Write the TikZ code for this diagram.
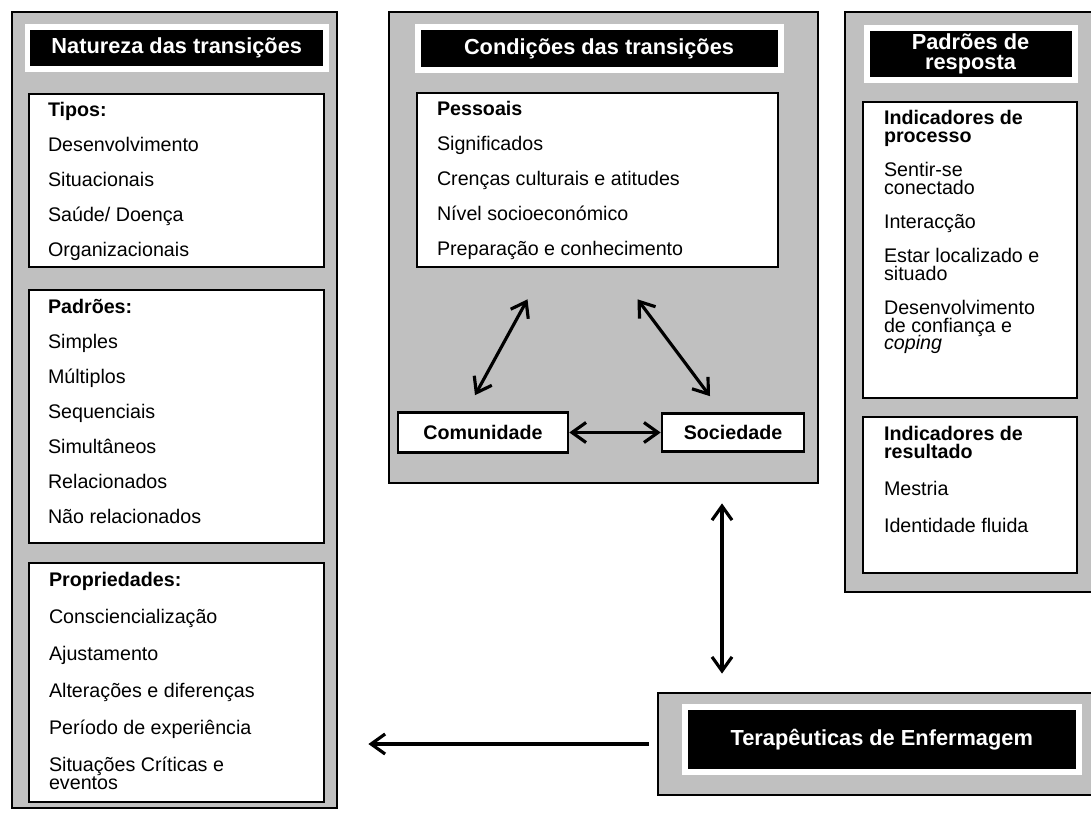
\documentclass[tikz,border=0pt]{standalone}
\usepackage{fontspec}
\setmainfont{Liberation Sans}
\usetikzlibrary{positioning,arrows.meta}
\definecolor{panelgray}{RGB}{192,192,192}
\newcommand{\wrapline}{\\[-0.34cm]}

\begin{document}
\begin{tikzpicture}[x=0.02cm,y=-0.02cm,
    sized/.style 2 args={minimum width=#1*0.02cm,minimum height=#2*0.02cm}]
  \tikzstyle{panel} = [draw,line width=1.6pt,fill=panelgray,inner sep=0pt]
  \tikzstyle{box} = [draw,line width=1.5pt,fill=white,inner sep=0pt]
  \tikzstyle{title} = [draw=white,line width=0.12cm,fill=black,text=white,inner sep=0pt,align=center,font=\fontsize{12.4}{11}\selectfont\bfseries]
  \tikzstyle{list} = [inner sep=0pt,align=left,font=\fontsize{11.2}{19.9}\selectfont]
  \tikzstyle{tag} = [box,text height=8pt,text depth=0pt,font=\fontsize{11.2}{12}\selectfont\bfseries]
  \tikzstyle{link} = [line width=1.8pt,{Straight Barb[length=0.28cm,width=0.4cm]}-{Straight Barb[length=0.28cm,width=0.4cm]}]

  \useasboundingbox (0,0) rectangle (1091,812);

  % panels
  \node[panel,sized={325}{796}] (nat) at (174.5,410) {};
  \node[panel,sized={429}{471}] (cond) at (603.5,247.5) {};
  \node[panel,sized={250}{580}] (resp) at (970,302) {};
  \node[panel,sized={437}{102}] (ter) at (876.5,744) {};

  % titles
  \node[title,sized={298.5}{41.5}] (natT) at (176.75,47.75) {Natureza das transições};
  \node[title,sized={363}{43}] (condT) at (599,48.5) {Condições das transições};
  \node[title,sized={208}{51.5}] (respT) at (970.5,53.75) {Padrões de\\resposta};
  \node[title,sized={393.5}{64.5}] (terT) at (881.75,739.25) {Terapêuticas de Enfermagem};

  % natureza
  \node[box,sized={295}{173}] (tipos) at (176.5,180.5) {};
  \node[box,sized={295}{253}] (padr) at (176.5,416.5) {};
  \node[box,sized={295}{239}] (prop) at (176.5,682.5) {};
  \node[list,below right=0.18cm and 0.4cm of tipos.north west] (tiposL) {\textbf{Tipos:}\\ Desenvolvimento\\ Situacionais\\ Saúde/ Doença\\ Organizacionais};
  \node[list,below right=0.2cm and 0.4cm of padr.north west] (padrL) {\textbf{Padrões:}\\ Simples\\ Múltiplos\\ Sequenciais\\ Simultâneos\\ Relacionados\\ Não relacionados};
  \node[list,below right=0.2cm and 0.42cm of prop.north west] (propL) {\textbf{Propriedades:}\\[0.04cm] Consciencialização\\[0.04cm] Ajustamento\\[0.04cm] Alterações e diferenças\\[0.04cm] Período de experiência\\[0.04cm] Situações Críticas e\wrapline eventos};

  % condicoes
  \node[box,sized={361}{174}] (pess) at (597.5,180) {};
  \node[list,below right=0.18cm and 0.42cm of pess.north west] (pessL) {\textbf{Pessoais}\\ Significados\\ Crenças culturais e atitudes\\ Nível socioeconómico\\ Preparação e conhecimento};
  \node[tag,sized={170}{40}] (comu) at (483,432.5) {Comunidade};
  \node[tag,sized={142}{38}] (soc) at (733,432.5) {Sociedade};

  % resposta
  \node[box,sized={214}{296}] (proc) at (970,250) {};
  \node[box,sized={214}{156}] (res) at (970,495) {};
  \node[list,below right=0.18cm and 0.44cm of proc.north west] (procL) {\textbf{Indicadores de}\wrapline\textbf{processo}\\[-0.02cm] Sentir-se\wrapline conectado\\[-0.02cm] Interacção\\[-0.02cm] Estar localizado e\wrapline situado\\[-0.02cm] Desenvolvimento\wrapline de confiança e\wrapline\textit{coping}};
  \node[list,below right=0.2cm and 0.44cm of res.north west] (resL) {\textbf{Indicadores de}\wrapline\textbf{resultado}\\[0.04cm] Mestria\\[0.04cm] Identidade fluida};

  % arrows
  \draw[link] ([shift={(-8,-16)}]comu.north) -- ([shift={(-70,31)}]pess.south);
  \draw[link] ([shift={(-23,-16)}]soc.north) -- ([shift={(40,31)}]pess.south);
  \draw[link] (comu) -- (soc);
  \coordinate (vx) at (722,0);
  \draw[link,shorten <=0.38cm,shorten >=0.36cm] (cond.south -| vx) -- (ter.north -| vx);
  \draw[line width=1.8pt,-{Straight Barb[length=0.28cm,width=0.4cm]},shorten <=0.16cm,shorten >=0.6cm] (ter.west) -- (ter.west -| nat.east);
\end{tikzpicture}
\end{document}
